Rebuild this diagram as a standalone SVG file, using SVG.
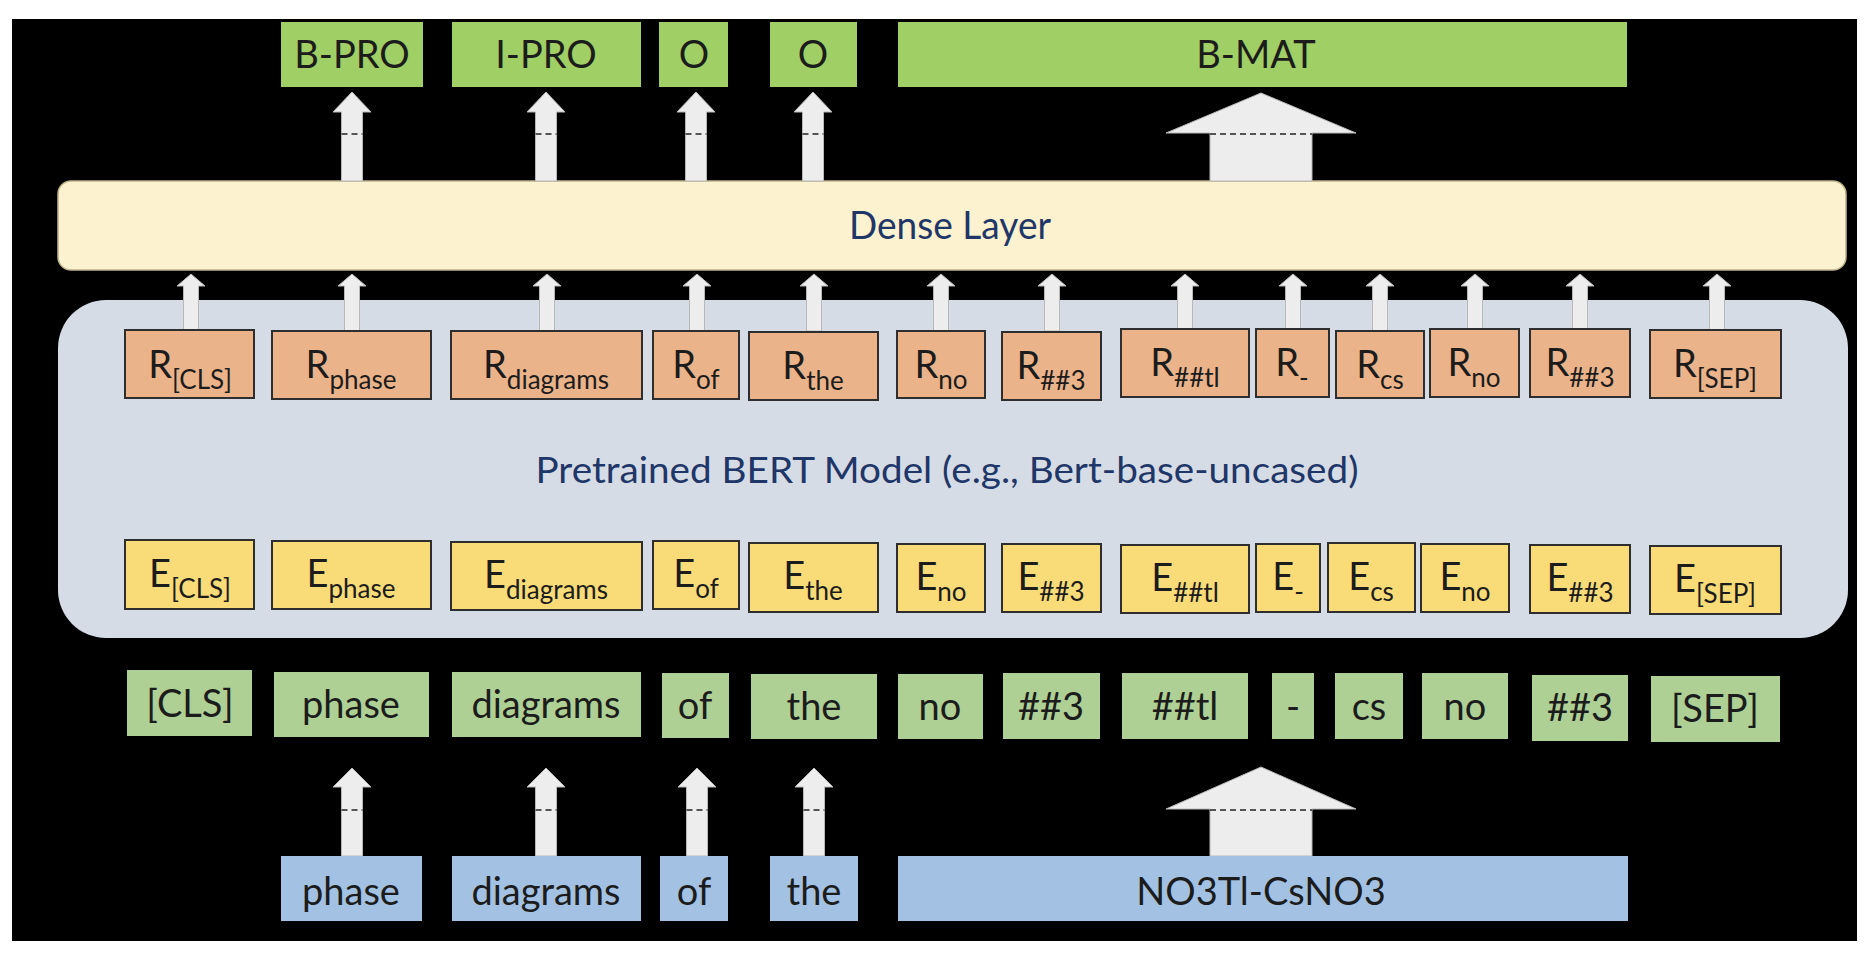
<svg xmlns="http://www.w3.org/2000/svg" width="1866" height="962" viewBox="0 0 1866 962">
<style>
.lbl{font-family:Lato,"Open Sans","Liberation Sans",sans-serif;font-size:38px;fill:#1c1c1c;text-anchor:middle}
.sub{font-size:26px}
.navy{font-family:Lato,"Open Sans","Liberation Sans",sans-serif;fill:#1f3768;text-anchor:middle}
.tag{fill:#a0cf65}
.tok{fill:#aed095}
.inp{fill:#a3c2e3}
.rb{fill:#ebb38a;stroke:#2e2e2e;stroke-width:2}
.eb{fill:#f9db78;stroke:#2e2e2e;stroke-width:2}
.arr{fill:#ededed;stroke:#b8b8b8;stroke-width:1}
.dash{stroke:#555;stroke-width:2;stroke-dasharray:6 4;fill:none}
</style>
<rect x="0" y="0" width="1866" height="962" fill="#ffffff"/>
<rect x="12" y="19" width="1845" height="922" fill="#000000"/>

<g id="dense-layer">
<rect x="58" y="181" width="1788" height="89" rx="13" fill="#fdf2cf" stroke="#bfb38c" stroke-width="1.5"/>
<text class="navy" x="950" y="239" font-size="39" textLength="202" lengthAdjust="spacingAndGlyphs">Dense Layer</text>
</g>

<g id="bert-model">
<rect x="58" y="300" width="1790" height="338" rx="48" fill="#d6dce5"/>
<text class="navy" x="947" y="483" font-size="36" textLength="823" lengthAdjust="spacingAndGlyphs">Pretrained BERT Model (e.g., Bert-base-uncased)</text>
</g>

<g id="connectors">
<polygon class="arr" points="352,92 371,112 362.5,112 362.5,181 341.5,181 341.5,112 333,112"/>
<polygon class="arr" points="546,92 565,112 556.5,112 556.5,181 535.5,181 535.5,112 527,112"/>
<polygon class="arr" points="696,92 715,112 706.5,112 706.5,181 685.5,181 685.5,112 677,112"/>
<polygon class="arr" points="813,92 832,112 823.5,112 823.5,181 802.5,181 802.5,112 794,112"/>
<polygon class="arr" points="1261,93 1356,133 1312,133 1312,181 1210,181 1210,133 1166,133"/>
<line class="dash" x1="341.5" y1="134" x2="362.5" y2="134"/>
<line class="dash" x1="535.5" y1="134" x2="556.5" y2="134"/>
<line class="dash" x1="685.5" y1="134" x2="706.5" y2="134"/>
<line class="dash" x1="802.5" y1="134" x2="823.5" y2="134"/>
<line class="dash" x1="1210" y1="134" x2="1312" y2="134"/>

<polygon class="arr" points="191,274 205,286 198.5,286 198.5,331 183.5,331 183.5,286 177,286"/>
<polygon class="arr" points="352,274 366,286 359.5,286 359.5,331 344.5,331 344.5,286 338,286"/>
<polygon class="arr" points="547,274 561,286 554.5,286 554.5,331 539.5,331 539.5,286 533,286"/>
<polygon class="arr" points="697,274 711,286 704.5,286 704.5,331 689.5,331 689.5,286 683,286"/>
<polygon class="arr" points="814,274 828,286 821.5,286 821.5,331 806.5,331 806.5,286 800,286"/>
<polygon class="arr" points="941,274 955,286 948.5,286 948.5,331 933.5,331 933.5,286 927,286"/>
<polygon class="arr" points="1052,274 1066,286 1059.5,286 1059.5,331 1044.5,331 1044.5,286 1038,286"/>
<polygon class="arr" points="1185,274 1199,286 1192.5,286 1192.5,331 1177.5,331 1177.5,286 1171,286"/>
<polygon class="arr" points="1293,274 1307,286 1300.5,286 1300.5,331 1285.5,331 1285.5,286 1279,286"/>
<polygon class="arr" points="1380,274 1394,286 1387.5,286 1387.5,331 1372.5,331 1372.5,286 1366,286"/>
<polygon class="arr" points="1475,274 1489,286 1482.5,286 1482.5,331 1467.5,331 1467.5,286 1461,286"/>
<polygon class="arr" points="1580,274 1594,286 1587.5,286 1587.5,331 1572.5,331 1572.5,286 1566,286"/>
<polygon class="arr" points="1717,274 1731,286 1724.5,286 1724.5,331 1709.5,331 1709.5,286 1703,286"/>

<polygon class="arr" points="352,768 371,787 362.5,787 362.5,856 341.5,856 341.5,787 333,787"/>
<polygon class="arr" points="546,768 565,787 556.5,787 556.5,856 535.5,856 535.5,787 527,787"/>
<polygon class="arr" points="697,768 716,787 707.5,787 707.5,856 686.5,856 686.5,787 678,787"/>
<polygon class="arr" points="814,768 833,787 824.5,787 824.5,856 803.5,856 803.5,787 795,787"/>
<polygon class="arr" points="1261,767 1356,809 1312,809 1312,856 1210,856 1210,809 1166,809"/>
<line class="dash" x1="341.5" y1="810" x2="362.5" y2="810"/>
<line class="dash" x1="535.5" y1="810" x2="556.5" y2="810"/>
<line class="dash" x1="686.5" y1="810" x2="707.5" y2="810"/>
<line class="dash" x1="803.5" y1="810" x2="824.5" y2="810"/>
<line class="dash" x1="1210" y1="810" x2="1312" y2="810"/>
</g>

<g id="tag-B-PRO"><rect class="tag" x="281" y="22" width="142" height="65"/><text class="lbl" x="352" y="68">B-PRO</text></g>
<g id="tag-I-PRO"><rect class="tag" x="452" y="22" width="189" height="65"/><text class="lbl" x="546" y="68">I-PRO</text></g>
<g id="tag-O1"><rect class="tag" x="659" y="22" width="69" height="65"/><text class="lbl" x="694" y="68">O</text></g>
<g id="tag-O2"><rect class="tag" x="770" y="22" width="87" height="65"/><text class="lbl" x="813" y="68">O</text></g>
<g id="tag-B-MAT"><rect class="tag" x="898" y="22" width="729" height="65"/><text class="lbl" x="1256" y="68">B-MAT</text></g>

<g id="R-CLS"><rect class="rb" x="125" y="330" width="129" height="68"/><text class="lbl" x="190" y="378">R<tspan class="sub" dy="11">[CLS]</tspan></text></g>
<g id="R-phase"><rect class="rb" x="272" y="331" width="159" height="68"/><text class="lbl" x="351" y="378">R<tspan class="sub" dy="11">phase</tspan></text></g>
<g id="R-diagrams"><rect class="rb" x="451" y="331" width="191" height="68"/><text class="lbl" x="546" y="378">R<tspan class="sub" dy="11">diagrams</tspan></text></g>
<g id="R-of"><rect class="rb" x="653" y="331" width="86" height="68"/><text class="lbl" x="696" y="378">R<tspan class="sub" dy="11">of</tspan></text></g>
<g id="R-the"><rect class="rb" x="749" y="332" width="129" height="68"/><text class="lbl" x="813" y="379">R<tspan class="sub" dy="11">the</tspan></text></g>
<g id="R-no1"><rect class="rb" x="897" y="331" width="88" height="67"/><text class="lbl" x="941" y="378">R<tspan class="sub" dy="11">no</tspan></text></g>
<g id="R-3a"><rect class="rb" x="1002" y="332" width="99" height="68"/><text class="lbl" x="1051" y="379">R<tspan class="sub" dy="11">##3</tspan></text></g>
<g id="R-tl"><rect class="rb" x="1121" y="329" width="128" height="68"/><text class="lbl" x="1185" y="376">R<tspan class="sub" dy="11">##tl</tspan></text></g>
<g id="R-dash"><rect class="rb" x="1256" y="329" width="73" height="68"/><text class="lbl" x="1292" y="376">R<tspan class="sub" dy="11">-</tspan></text></g>
<g id="R-cs"><rect class="rb" x="1336" y="331" width="88" height="67"/><text class="lbl" x="1380" y="378">R<tspan class="sub" dy="11">cs</tspan></text></g>
<g id="R-no2"><rect class="rb" x="1430" y="329" width="89" height="68"/><text class="lbl" x="1474" y="376">R<tspan class="sub" dy="11">no</tspan></text></g>
<g id="R-3b"><rect class="rb" x="1530" y="329" width="100" height="68"/><text class="lbl" x="1580" y="376">R<tspan class="sub" dy="11">##3</tspan></text></g>
<g id="R-SEP"><rect class="rb" x="1650" y="330" width="131" height="68"/><text class="lbl" x="1715" y="377">R<tspan class="sub" dy="11">[SEP]</tspan></text></g>

<g id="E-CLS"><rect class="eb" x="125" y="540" width="129" height="69"/><text class="lbl" x="190" y="587">E<tspan class="sub" dy="11">[CLS]</tspan></text></g>
<g id="E-phase"><rect class="eb" x="272" y="541" width="159" height="68"/><text class="lbl" x="351" y="587">E<tspan class="sub" dy="11">phase</tspan></text></g>
<g id="E-diagrams"><rect class="eb" x="451" y="542" width="191" height="68"/><text class="lbl" x="546" y="588">E<tspan class="sub" dy="11">diagrams</tspan></text></g>
<g id="E-of"><rect class="eb" x="653" y="541" width="86" height="68"/><text class="lbl" x="696" y="587">E<tspan class="sub" dy="11">of</tspan></text></g>
<g id="E-the"><rect class="eb" x="749" y="543" width="129" height="69"/><text class="lbl" x="813" y="589">E<tspan class="sub" dy="11">the</tspan></text></g>
<g id="E-no1"><rect class="eb" x="897" y="544" width="88" height="68"/><text class="lbl" x="941" y="590">E<tspan class="sub" dy="11">no</tspan></text></g>
<g id="E-3a"><rect class="eb" x="1002" y="544" width="99" height="68"/><text class="lbl" x="1051" y="590">E<tspan class="sub" dy="11">##3</tspan></text></g>
<g id="E-tl"><rect class="eb" x="1121" y="545" width="128" height="68"/><text class="lbl" x="1185" y="591">E<tspan class="sub" dy="11">##tl</tspan></text></g>
<g id="E-dash"><rect class="eb" x="1256" y="544" width="64" height="68"/><text class="lbl" x="1288" y="590">E<tspan class="sub" dy="11">-</tspan></text></g>
<g id="E-cs"><rect class="eb" x="1328" y="543" width="87" height="69"/><text class="lbl" x="1371" y="590">E<tspan class="sub" dy="11">cs</tspan></text></g>
<g id="E-no2"><rect class="eb" x="1421" y="544" width="88" height="68"/><text class="lbl" x="1465" y="590">E<tspan class="sub" dy="11">no</tspan></text></g>
<g id="E-3b"><rect class="eb" x="1530" y="545" width="100" height="68"/><text class="lbl" x="1580" y="591">E<tspan class="sub" dy="11">##3</tspan></text></g>
<g id="E-SEP"><rect class="eb" x="1650" y="546" width="131" height="68"/><text class="lbl" x="1715" y="592">E<tspan class="sub" dy="11">[SEP]</tspan></text></g>

<g id="tok-CLS"><rect class="tok" x="127" y="670" width="125" height="66"/><text class="lbl" x="190" y="717">[CLS]</text></g>
<g id="tok-phase"><rect class="tok" x="274" y="672" width="155" height="65"/><text class="lbl" x="351" y="718">phase</text></g>
<g id="tok-diagrams"><rect class="tok" x="452" y="672" width="189" height="65"/><text class="lbl" x="546" y="718">diagrams</text></g>
<g id="tok-of"><rect class="tok" x="662" y="673" width="67" height="65"/><text class="lbl" x="695" y="719">of</text></g>
<g id="tok-the"><rect class="tok" x="751" y="674" width="126" height="65"/><text class="lbl" x="814" y="720">the</text></g>
<g id="tok-no1"><rect class="tok" x="898" y="674" width="85" height="65"/><text class="lbl" x="940" y="720">no</text></g>
<g id="tok-3a"><rect class="tok" x="1003" y="673" width="97" height="66"/><text class="lbl" x="1051" y="720">##3</text></g>
<g id="tok-tl"><rect class="tok" x="1122" y="673" width="126" height="66"/><text class="lbl" x="1185" y="720">##tl</text></g>
<g id="tok-dash"><rect class="tok" x="1272" y="673" width="42" height="66"/><text class="lbl" x="1293" y="720">-</text></g>
<g id="tok-cs"><rect class="tok" x="1335" y="673" width="68" height="66"/><text class="lbl" x="1369" y="720">cs</text></g>
<g id="tok-no2"><rect class="tok" x="1422" y="673" width="86" height="66"/><text class="lbl" x="1465" y="720">no</text></g>
<g id="tok-3b"><rect class="tok" x="1532" y="675" width="96" height="66"/><text class="lbl" x="1580" y="721">##3</text></g>
<g id="tok-SEP"><rect class="tok" x="1651" y="676" width="129" height="66"/><text class="lbl" x="1715" y="722">[SEP]</text></g>

<g id="in-phase"><rect class="inp" x="281" y="856" width="141" height="65"/><text class="lbl" x="351" y="905">phase</text></g>
<g id="in-diagrams"><rect class="inp" x="452" y="856" width="189" height="65"/><text class="lbl" x="546" y="905">diagrams</text></g>
<g id="in-of"><rect class="inp" x="660" y="856" width="68" height="65"/><text class="lbl" x="694" y="905">of</text></g>
<g id="in-the"><rect class="inp" x="770" y="856" width="88" height="65"/><text class="lbl" x="814" y="905">the</text></g>
<g id="in-NO3Tl-CsNO3"><rect class="inp" x="898" y="856" width="730" height="65"/><text class="lbl" x="1261" y="905">NO3Tl-CsNO3</text></g>
</svg>
